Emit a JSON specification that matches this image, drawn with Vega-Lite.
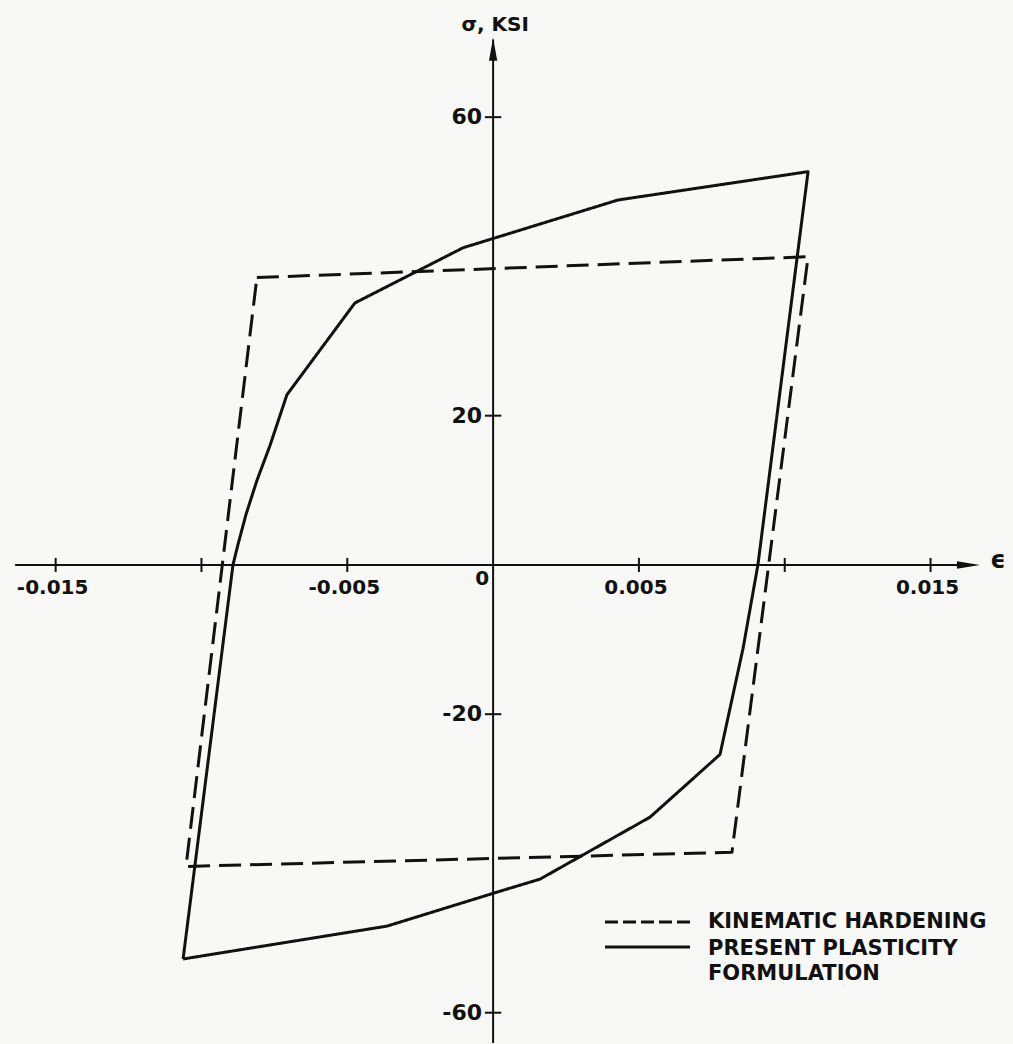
{
  "$schema": "https://vega.github.io/schema/vega-lite/v6.json",
  "width": 1013,
  "height": 1044,
  "autosize": {"type": "fit", "contains": "padding"},
  "padding": 0,
  "background": "#f8f8f6",
  "config": {"view": {"stroke": null}, "axis": {"disable": true}},
  "datasets": {
    "loops": [
      {"series": "PRESENT PLASTICITY FORMULATION", "i": 0, "e": -0.01063, "s": -52.8},
      {"series": "PRESENT PLASTICITY FORMULATION", "i": 1, "e": -0.00892, "s": 0.0},
      {"series": "PRESENT PLASTICITY FORMULATION", "i": 2, "e": -0.00875, "s": 2.7},
      {"series": "PRESENT PLASTICITY FORMULATION", "i": 3, "e": -0.00847, "s": 6.8},
      {"series": "PRESENT PLASTICITY FORMULATION", "i": 4, "e": -0.0081, "s": 11.3},
      {"series": "PRESENT PLASTICITY FORMULATION", "i": 5, "e": -0.00765, "s": 16.0},
      {"series": "PRESENT PLASTICITY FORMULATION", "i": 6, "e": -0.00707, "s": 22.8},
      {"series": "PRESENT PLASTICITY FORMULATION", "i": 7, "e": -0.00474, "s": 35.1},
      {"series": "PRESENT PLASTICITY FORMULATION", "i": 8, "e": -0.00103, "s": 42.5},
      {"series": "PRESENT PLASTICITY FORMULATION", "i": 9, "e": 0.00428, "s": 48.9},
      {"series": "PRESENT PLASTICITY FORMULATION", "i": 10, "e": 0.0108, "s": 52.7},
      {"series": "PRESENT PLASTICITY FORMULATION", "i": 11, "e": 0.00908, "s": 0.0},
      {"series": "PRESENT PLASTICITY FORMULATION", "i": 12, "e": 0.00857, "s": -11.2},
      {"series": "PRESENT PLASTICITY FORMULATION", "i": 13, "e": 0.00778, "s": -25.4},
      {"series": "PRESENT PLASTICITY FORMULATION", "i": 14, "e": 0.00538, "s": -33.8},
      {"series": "PRESENT PLASTICITY FORMULATION", "i": 15, "e": 0.00161, "s": -42.1},
      {"series": "PRESENT PLASTICITY FORMULATION", "i": 16, "e": 0.00017, "s": -43.8},
      {"series": "PRESENT PLASTICITY FORMULATION", "i": 17, "e": -0.00364, "s": -48.4},
      {"series": "PRESENT PLASTICITY FORMULATION", "i": 18, "e": -0.01063, "s": -52.8},
      {"series": "KINEMATIC HARDENING", "i": 0, "e": -0.0081, "s": 38.5},
      {"series": "KINEMATIC HARDENING", "i": 1, "e": 0.0108, "s": 41.3},
      {"series": "KINEMATIC HARDENING", "i": 2, "e": 0.00819, "s": -38.5},
      {"series": "KINEMATIC HARDENING", "i": 3, "e": -0.01053, "s": -40.4},
      {"series": "KINEMATIC HARDENING", "i": 4, "e": -0.0081, "s": 38.5}
    ],
    "xticks": [{"e": -0.015}, {"e": -0.01}, {"e": -0.005}, {"e": 0.005}, {"e": 0.01}, {"e": 0.015}],
    "yticks": [{"s": 60}, {"s": 20}, {"s": -20}, {"s": -60}],
    "xlabels": [{"e": -0.015, "t": "-0.015"}, {"e": -0.005, "t": "-0.005"}, {"e": 0.005, "t": "0.005"}, {"e": 0.015, "t": "0.015"}],
    "ylabels": [{"s": 60, "t": "60"}, {"s": 20, "t": "20"}, {"s": -20, "t": "-20"}, {"s": -60, "t": "-60"}],
    "arrows": [{"e": 0.0163, "s": 0, "d": "right"}, {"e": 0, "s": 69.1, "d": "up"}],
    "legendtext": [{"t": "KINEMATIC HARDENING", "s": -47.86}, {"t": "PRESENT PLASTICITY", "s": -51.47}, {"t": "FORMULATION", "s": -54.82}]
  },
  "layer": [
    {
      "data": {"name": "loops"},
      "mark": {"type": "line", "strokeWidth": 3, "color": "#111111", "strokeJoin": "round"},
      "encoding": {
        "x": {"field": "e", "type": "quantitative", "scale": {"domain": [-0.016908, 0.017827], "nice": false, "zero": false}, "axis": null},
        "y": {"field": "s", "type": "quantitative", "scale": {"domain": [-64.06, 75.7], "nice": false, "zero": false}, "axis": null},
        "order": {"field": "i", "type": "quantitative"},
        "strokeDash": {"field": "series", "type": "nominal", "scale": {"domain": ["KINEMATIC HARDENING", "PRESENT PLASTICITY FORMULATION"], "range": [[22, 9], [1, 0]]}, "legend": null}
      }
    },
    {
      "data": {"values": [{}]},
      "mark": {"type": "rule", "strokeWidth": 2, "color": "#111111"},
      "encoding": {
        "x": {"datum": -0.01639, "type": "quantitative", "axis": null},
        "x2": {"datum": 0.0165},
        "y": {"datum": 0, "type": "quantitative", "axis": null}
      }
    },
    {
      "data": {"values": [{}]},
      "mark": {"type": "rule", "strokeWidth": 2, "color": "#111111"},
      "encoding": {
        "x": {"datum": 0, "type": "quantitative", "axis": null},
        "y": {"datum": 70.4, "type": "quantitative", "axis": null},
        "y2": {"datum": -64.06}
      }
    },
    {
      "data": {"name": "arrows"},
      "mark": {"type": "point", "filled": true, "color": "#111111", "opacity": 1, "size": 529},
      "encoding": {
        "x": {"field": "e", "type": "quantitative", "axis": null},
        "y": {"field": "s", "type": "quantitative", "axis": null},
        "shape": {"field": "d", "type": "nominal", "scale": {"domain": ["right", "up"], "range": ["M-1,-0.33L1,0L-1,0.33Z", "M-0.36,1L0,-1L0.36,1Z"]}, "legend": null}
      }
    },
    {
      "data": {"name": "xticks"},
      "mark": {"type": "rule", "strokeWidth": 2, "color": "#111111"},
      "encoding": {
        "x": {"field": "e", "type": "quantitative", "axis": null},
        "y": {"datum": -0.94, "type": "quantitative", "axis": null},
        "y2": {"datum": 0.94}
      }
    },
    {
      "data": {"name": "yticks"},
      "mark": {"type": "rule", "strokeWidth": 2, "color": "#111111"},
      "encoding": {
        "y": {"field": "s", "type": "quantitative", "axis": null},
        "x": {"datum": -0.00028, "type": "quantitative", "axis": null},
        "x2": {"datum": 0.00028}
      }
    },
    {
      "data": {"name": "xlabels"},
      "mark": {"type": "text", "font": "DejaVu Sans", "fontSize": 20, "fontWeight": "bold", "color": "#111111", "align": "center", "baseline": "middle", "dx": -3},
      "encoding": {
        "x": {"field": "e", "type": "quantitative", "axis": null},
        "y": {"datum": -3.1, "type": "quantitative", "axis": null},
        "text": {"field": "t"}
      }
    },
    {
      "data": {"name": "ylabels"},
      "mark": {"type": "text", "font": "DejaVu Sans", "fontSize": 22, "fontWeight": "bold", "color": "#111111", "align": "right", "baseline": "middle", "dx": -11},
      "encoding": {
        "x": {"datum": 0, "type": "quantitative", "axis": null},
        "y": {"field": "s", "type": "quantitative", "axis": null},
        "text": {"field": "t"}
      }
    },
    {
      "data": {"values": [{"t": "0"}]},
      "mark": {"type": "text", "font": "DejaVu Sans", "fontSize": 20, "fontWeight": "bold", "color": "#111111", "align": "right", "baseline": "middle", "dx": -4},
      "encoding": {
        "x": {"datum": 0, "type": "quantitative", "axis": null},
        "y": {"datum": -1.94, "type": "quantitative", "axis": null},
        "text": {"field": "t"}
      }
    },
    {
      "data": {"values": [{"t": "σ, KSI"}]},
      "mark": {"type": "text", "font": "DejaVu Sans", "fontSize": 20, "fontWeight": "bold", "color": "#111111", "align": "center", "baseline": "middle"},
      "encoding": {
        "x": {"datum": 0.00007, "type": "quantitative", "axis": null},
        "y": {"datum": 72.3, "type": "quantitative", "axis": null},
        "text": {"field": "t"}
      }
    },
    {
      "data": {"values": [{"t": "ϵ"}]},
      "mark": {"type": "text", "font": "DejaVu Sans", "fontSize": 24, "fontWeight": "bold", "color": "#111111", "align": "center", "baseline": "middle"},
      "encoding": {
        "x": {"datum": 0.01731, "type": "quantitative", "axis": null},
        "y": {"datum": 0.5, "type": "quantitative", "axis": null},
        "text": {"field": "t"}
      }
    },
    {
      "data": {"values": [{}]},
      "mark": {"type": "rule", "strokeWidth": 3, "color": "#111111", "strokeDash": [13, 5]},
      "encoding": {
        "x": {"datum": 0.003837, "type": "quantitative", "axis": null},
        "x2": {"datum": 0.006752},
        "y": {"datum": -47.86, "type": "quantitative", "axis": null}
      }
    },
    {
      "data": {"values": [{}]},
      "mark": {"type": "rule", "strokeWidth": 3, "color": "#111111"},
      "encoding": {
        "x": {"datum": 0.003837, "type": "quantitative", "axis": null},
        "x2": {"datum": 0.006752},
        "y": {"datum": -51.2, "type": "quantitative", "axis": null}
      }
    },
    {
      "data": {"name": "legendtext"},
      "mark": {"type": "text", "font": "DejaVu Sans", "fontSize": 21, "fontWeight": "bold", "color": "#111111", "align": "left", "baseline": "middle"},
      "encoding": {
        "x": {"datum": 0.007369, "type": "quantitative", "axis": null},
        "y": {"field": "s", "type": "quantitative", "axis": null},
        "text": {"field": "t"}
      }
    }
  ]
}
